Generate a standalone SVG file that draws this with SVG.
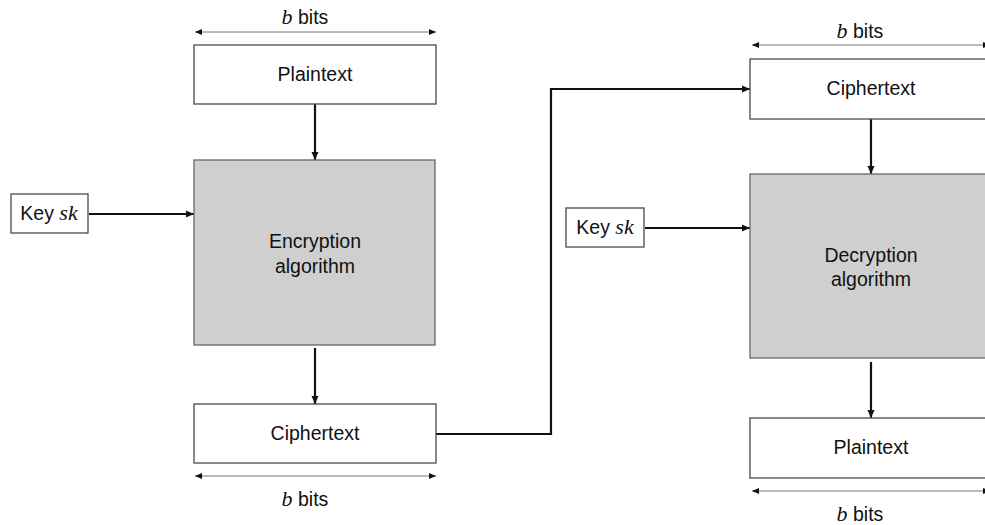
<svg xmlns="http://www.w3.org/2000/svg" width="985" height="525" viewBox="0 0 985 525">
  <style>
    .box { fill: #ffffff; stroke: #4a4a4a; stroke-width: 1.3; }
    .algo { fill: #cfcfcf; stroke: #666666; stroke-width: 1.3; }
    .label { font-family: "Liberation Sans", Arial, sans-serif; font-size: 19.5px; fill: #111111; text-anchor: middle; }
    .math { font-family: "Liberation Serif", "Times New Roman", serif; font-style: italic; font-size: 22px; }
    .flow { fill: none; stroke: #111111; stroke-width: 2.2; marker-end: url(#head); }
    .span { fill: none; stroke: #777777; stroke-width: 1; marker-start: url(#tip); marker-end: url(#tip); }
  </style>
  <defs>
    <marker id="head" markerUnits="userSpaceOnUse" markerWidth="9" markerHeight="8" refX="8" refY="4" orient="auto">
      <path d="M0,0.5 L8,4 L0,7.5 Z" fill="#111111"/>
    </marker>
    <marker id="tip" markerUnits="userSpaceOnUse" markerWidth="8" markerHeight="7" refX="7" refY="3.5" orient="auto-start-reverse">
      <path d="M0,0.5 L7,3.5 L0,6.5 Z" fill="#111111"/>
    </marker>
  </defs>
  <rect width="985" height="525" fill="#ffffff"/>

  <!-- connectors -->
  <g id="connectors">
    <line class="flow" x1="315" y1="104" x2="315" y2="160"/>
    <line class="flow" x1="89" y1="214" x2="194" y2="214"/>
    <line class="flow" x1="315" y1="348" x2="315" y2="404"/>
    <polyline class="flow" points="436,434 551,434 551,89 750,89"/>
    <line class="flow" x1="871" y1="119" x2="871" y2="174"/>
    <line class="flow" x1="645" y1="228" x2="750" y2="228"/>
    <line class="flow" x1="871" y1="362" x2="871" y2="418"/>
    <!-- block width spans -->
    <line class="span" x1="195" y1="32" x2="436" y2="32"/>
    <line class="span" x1="195" y1="476" x2="436" y2="476"/>
    <line class="span" x1="752" y1="45" x2="990" y2="45"/>
    <line class="span" x1="752" y1="491" x2="990" y2="491"/>
  </g>

  <g id="width-labels">
    <text class="label" x="305" y="24"><tspan class="math">b</tspan> bits</text>
    <text class="label" x="305" y="506"><tspan class="math">b</tspan> bits</text>
    <text class="label" x="860" y="38"><tspan class="math">b</tspan> bits</text>
    <text class="label" x="860" y="521"><tspan class="math">b</tspan> bits</text>
  </g>

  <g id="plaintext-in">
    <rect class="box" x="194" y="45" width="242" height="59"/>
    <text class="label" x="315" y="81">Plaintext</text>
  </g>
  <g id="key-enc">
    <rect class="box" x="11" y="194" width="77" height="39"/>
    <text class="label" x="49" y="220">Key <tspan class="math">sk</tspan></text>
  </g>
  <g id="encryption">
    <rect class="algo" x="194" y="160" width="241" height="185"/>
    <text class="label" x="315" y="248">Encryption</text>
    <text class="label" x="315" y="273">algorithm</text>
  </g>
  <g id="ciphertext-out">
    <rect class="box" x="194" y="404" width="242" height="59"/>
    <text class="label" x="315" y="440">Ciphertext</text>
  </g>

  <g id="ciphertext-in">
    <rect class="box" x="750" y="59" width="245" height="60"/>
    <text class="label" x="871" y="95">Ciphertext</text>
  </g>
  <g id="key-dec">
    <rect class="box" x="566" y="208" width="78" height="39"/>
    <text class="label" x="605" y="234">Key <tspan class="math">sk</tspan></text>
  </g>
  <g id="decryption">
    <rect class="algo" x="750" y="174" width="245" height="184"/>
    <text class="label" x="871" y="262">Decryption</text>
    <text class="label" x="871" y="286">algorithm</text>
  </g>
  <g id="plaintext-out">
    <rect class="box" x="750" y="418" width="245" height="60"/>
    <text class="label" x="871" y="454">Plaintext</text>
  </g>
</svg>
